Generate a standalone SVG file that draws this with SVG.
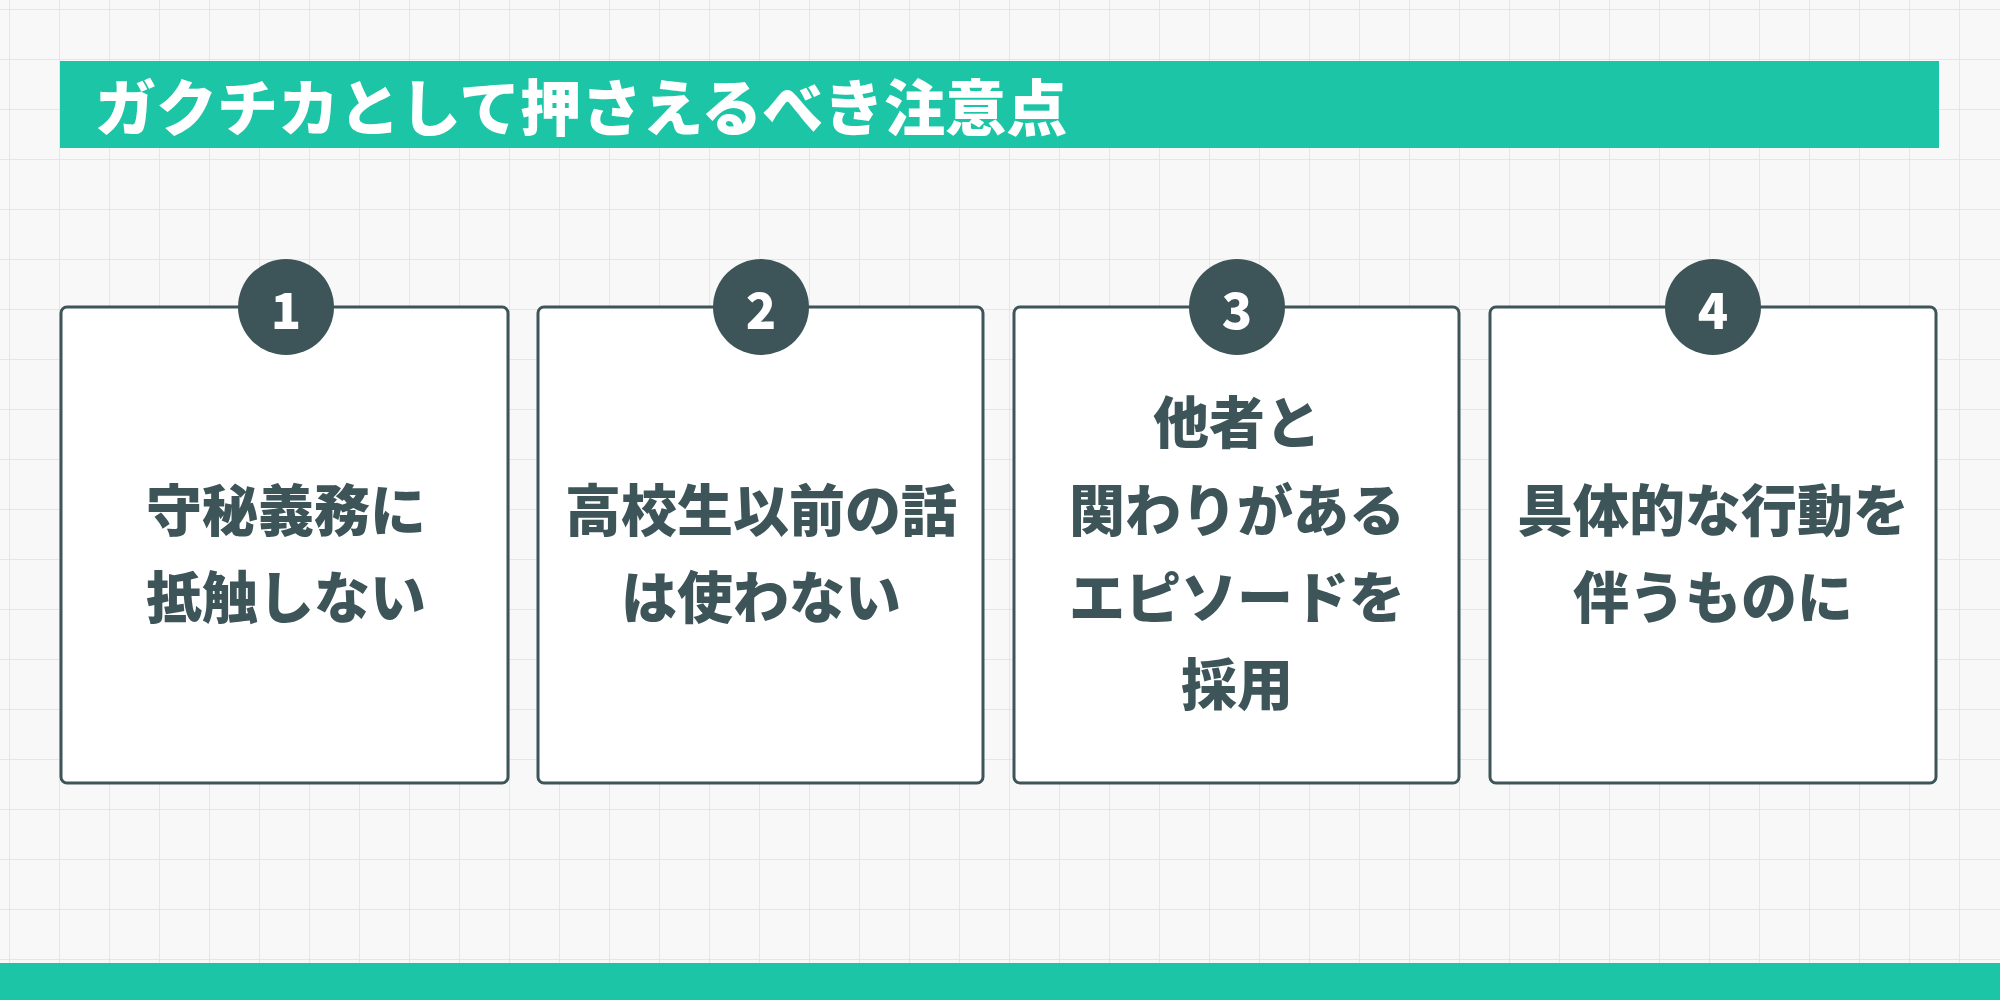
<svg xmlns="http://www.w3.org/2000/svg" width="2000" height="1000" viewBox="0 0 2000 1000">
<style>
.card{fill:#fff;stroke:#3d5558;stroke-width:3}
.num{fill:#3d5558}
.nt{fill:#fff;font-family:"Noto Sans CJK JP","Noto Sans",sans-serif;font-weight:900;font-size:50px;text-anchor:middle;dominant-baseline:central}
.t{fill:#3d5558;font-family:"Noto Sans CJK JP",sans-serif;font-weight:900;font-size:56px;text-anchor:middle;dominant-baseline:central}
</style>
<defs>
<pattern id="g" width="50" height="50" patternUnits="userSpaceOnUse" x="10" y="10">
<path d="M50 0V50M0 50H50" fill="none" stroke="#e0e2e2" stroke-width="1.5"/>
</pattern>
</defs>
<rect width="2000" height="1000" fill="#f8f8f8"/>
<rect width="2000" height="1000" fill="url(#g)"/>
<g id="title">
<rect x="60" y="61" width="1879" height="87" fill="#1dc5a7"/>
<text x="95" y="104" font-family="Noto Sans CJK JP,sans-serif" font-weight="900" font-size="61" fill="#fff" dominant-baseline="central">ガクチカとして押さえるべき注意点</text>
</g>
<rect id="footer" x="0" y="963" width="2000" height="37" fill="#1dc5a7"/>
<g id="card1">
<rect class="card" x="61" y="307" width="447" height="476" rx="6"/>
<circle class="num" cx="286" cy="307" r="48"/><text class="nt" x="286" y="307">1</text>
<text class="t" x="286" y="506">守秘義務に</text><text class="t" x="286" y="593">抵触しない</text>
</g>
<g id="card2">
<rect class="card" x="538" y="307" width="445" height="476" rx="6"/>
<circle class="num" cx="761" cy="307" r="48"/><text class="nt" x="761" y="307">2</text>
<text class="t" x="761" y="506">高校生以前の話</text><text class="t" x="761" y="593">は使わない</text>
</g>
<g id="card3">
<rect class="card" x="1014" y="307" width="445" height="476" rx="6"/>
<circle class="num" cx="1237" cy="307" r="48"/><text class="nt" x="1237" y="307">3</text>
<text class="t" x="1237" y="418">他者と</text><text class="t" x="1237" y="506">関わりがある</text><text class="t" x="1237" y="593">エピソードを</text><text class="t" x="1237" y="680">採用</text>
</g>
<g id="card4">
<rect class="card" x="1490" y="307" width="446" height="476" rx="6"/>
<circle class="num" cx="1713" cy="307" r="48"/><text class="nt" x="1713" y="307">4</text>
<text class="t" x="1713" y="506">具体的な行動を</text><text class="t" x="1713" y="593">伴うものに</text>
</g>
<g id="connectors"/>
</svg>
